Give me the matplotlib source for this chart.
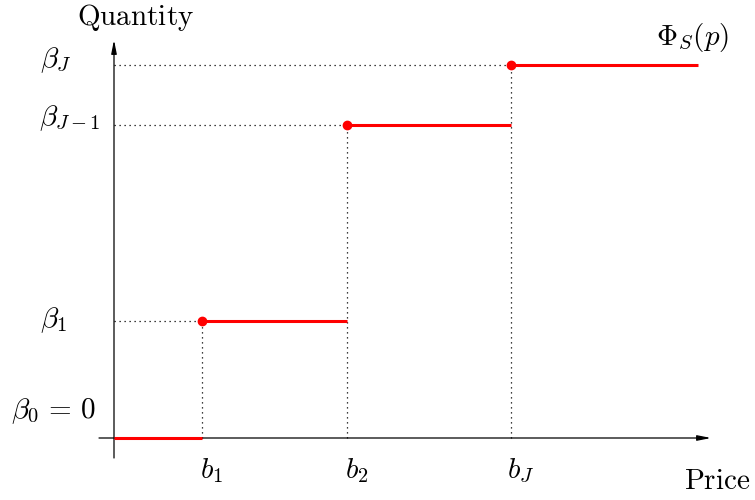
import matplotlib
matplotlib.use("Agg")
import matplotlib.pyplot as plt

plt.rcParams["mathtext.fontset"] = "cm"

# Step function breakpoints (price) and levels (quantity)
prices = [0, 88, 233, 397]
levels = [0, 117, 313, 373]
price_end = 584
price_labels = [r"$b_1$", r"$b_2$", r"$b_J$"]
level_labels = [r"$\beta_0 \,=\, 0$", r"$\beta_1$", r"$\beta_{J-1}$", r"$\beta_J$"]

fig = plt.figure(figsize=(7.55, 5.0), dpi=100)
ax = fig.add_axes([0, 0, 1, 1])
ax.set_xlim(-114, 641)
ax.set_ylim(-62, 438)
ax.axis("off")

# Axes with arrow heads
arrow_kw = dict(arrowstyle="-|>,head_length=0.8,head_width=0.16", color="black",
                lw=0.9, shrinkA=0, shrinkB=0)
ax.annotate("", xy=(597, 0), xytext=(-15, 0), arrowprops=arrow_kw)
ax.annotate("", xy=(0, 398), xytext=(0, -20), arrowprops=arrow_kw)

# Dotted guide lines
dot_kw = dict(color="black", lw=0.9, linestyle=(0, (1, 3)))
for i in range(1, len(prices)):
    ax.plot([0, prices[i]], [levels[i], levels[i]], **dot_kw)
    ax.plot([prices[i], prices[i]], [0, levels[i]], **dot_kw)

# Steps
ends = prices[1:] + [price_end]
for i in range(len(prices)):
    ax.plot([prices[i], ends[i]], [levels[i], levels[i]], color="red", lw=2.2,
            solid_capstyle="butt", zorder=3)
    if i > 0:
        ax.plot(prices[i], levels[i], "o", color="red", ms=6, zorder=4)

fs = 21
# Level labels
level_pos = [(54, 27), (54, 118), (70, 320), (56, 378)]
for (x, y), lab in zip(level_pos, level_labels):
    ax.text(x - 114, y, lab, fontsize=fs, ha="center", va="center")

# Price labels
for p, lab in zip(prices[1:], price_labels):
    ax.text(p + 10, -40, lab, fontsize=fs, ha="center", va="baseline")

ax.text(136 - 114, 413, r"$\mathrm{Quantity}$", fontsize=fs, ha="center", va="baseline")
ax.text(750 - 114, -51, r"$\mathrm{Price}$", fontsize=fs, ha="right", va="baseline")
ax.text(693 - 114, 400, r"$\Phi_S(p)$", fontsize=fs, ha="center", va="center")

fig.savefig("out.png", dpi=100)
